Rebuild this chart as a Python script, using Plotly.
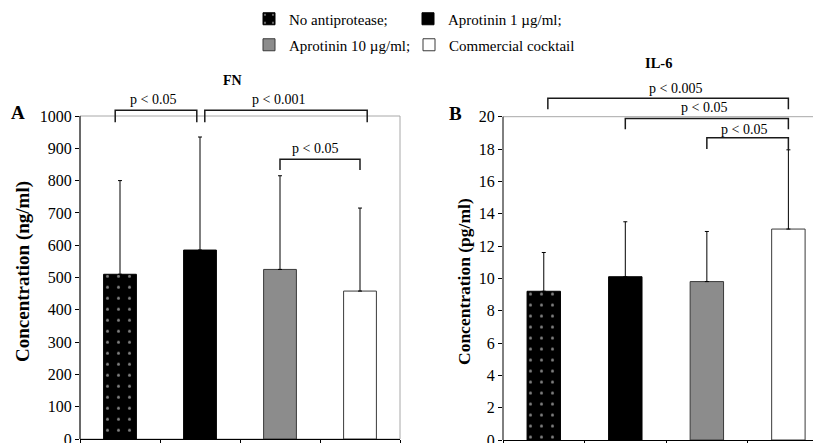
import plotly.graph_objects as go

# ---------------- data ----------------
categories = ["No antiprotease", "Aprotinin 1 µg/ml", "Aprotinin 10 µg/ml", "Commercial cocktail"]
legend_labels = ["No antiprotease;", "Aprotinin 1 µg/ml;", "Aprotinin 10 µg/ml;", "Commercial cocktail"]

fn_mean = [510, 585, 525, 458]
fn_sd = [290, 350, 290, 257]

il6_mean = [9.2, 10.1, 9.8, 13.05]
il6_sd = [2.4, 3.4, 3.1, 4.9]

fn_ticks = [0, 100, 200, 300, 400, 500, 600, 700, 800, 900, 1000]
il6_ticks = [0, 2, 4, 6, 8, 10, 12, 14, 16, 18, 20]

# significance brackets: (x start, x end, bar y, left leg end, right leg end, label, label x, label y)
fn_brackets = [
    (-0.06, 0.96, 1018, 981, 981, "p < 0.05", 0.41, 1052),
    (1.06, 3.09, 1018, 981, 981, "p < 0.001", 1.98, 1052),
    (2.0, 3.0, 866, 833, 833, "p < 0.05", 2.44, 900),
]
il6_brackets = [
    (0.05, 3.0, 21.14, 20.46, 20.46, "p < 0.005", 1.62, 21.76),
    (1.0, 3.0, 19.89, 19.22, 19.22, "p < 0.05", 1.96, 20.56),
    (2.0, 3.0, 18.70, 18.0, 17.94, "p < 0.05", 2.45, 19.18),
]

# ---------------- layout helpers ----------------
# the page body adds an 8px margin, so the figure is drawn 8px in from the window edges
PAGE = 8
W, H = 821 - PAGE, 443 - PAGE
SERIF = "Liberation Serif, Times New Roman, serif"


def fx(rx):
    return (rx - PAGE) / W


def fy(ry):
    return (H - (ry - PAGE)) / H


bar_fill = ["black", "black", "#8c8c8c", "white"]
bar_line = ["black", "black", "#3a3a3a", "#3a3a3a"]
bar_pattern = [dict(shape=".", bgcolor="black", fgcolor="white", size=11, solidity=0.06),
               None, None, None]
legend_ids = ["legend", "legend2", "legend3", "legend4"]
legend_pos = [(268, 19), (427, 19), (268, 45), (428, 45)]

fig = go.Figure()


def add_panel(means, sds, xa, ya, legend_on):
    for i, cat in enumerate(categories):
        marker = dict(color=bar_fill[i], line=dict(color=bar_line[i], width=1))
        if bar_pattern[i]:
            marker["pattern"] = bar_pattern[i]
        fig.add_trace(go.Bar(
            x=[cat], y=[means[i]], name=legend_labels[i], width=0.41,
            marker=marker, xaxis=xa, yaxis=ya,
            showlegend=legend_on, legend=legend_ids[i],
            error_y=dict(type="data", symmetric=False, array=[sds[i]], arrayminus=[0],
                         color="black", thickness=1, width=2),
        ))


add_panel(fn_mean, fn_sd, "x", "y", True)
add_panel(il6_mean, il6_sd, "x2", "y2", False)


def ydomain(ry_zero, ry_top_tick, top_tick, range_top):
    k = (ry_zero - ry_top_tick) / top_tick
    ry_top = ry_zero - range_top * k
    return [fy(ry_zero), fy(ry_top)]


RA, RB = 1100, 22.3
dom_a = ydomain(439, 116, 1000, RA)
dom_b = ydomain(440, 116.7, 20, RB)

common_x = dict(type="category", showline=True, linecolor="black", linewidth=1,
                ticks="outside", tickson="boundaries", ticklen=5, tickcolor="black",
                showticklabels=False, showgrid=False, zeroline=False, fixedrange=True)
common_y = dict(showline=False, ticks="outside", ticklen=4, tickcolor="black",
                showgrid=False, zeroline=False, ticklabeloverflow="allow",
                tickfont=dict(family=SERIF, size=16, color="black"))

layout = dict(
    width=W, height=H,
    margin=dict(l=0, r=0, t=0, b=0, autoexpand=False),
    paper_bgcolor="white", plot_bgcolor="white",
    barmode="overlay",
    font=dict(family=SERIF, color="black"),
    xaxis=dict(domain=[fx(80), fx(400)], range=[-0.5, 3.5], anchor="y", **common_x),
    yaxis=dict(domain=dom_a, range=[0, RA], tickvals=fn_ticks, anchor="x", **common_y),
    xaxis2=dict(domain=[fx(503), 1.0], range=[-0.5, 3.4], anchor="y2", **common_x),
    yaxis2=dict(domain=dom_b, range=[0, RB], tickvals=il6_ticks, anchor="x2", **common_y),
)
for lid, (sx, sy) in zip(legend_ids, legend_pos):
    layout[lid] = dict(orientation="h", x=fx(sx - 19), xanchor="left", y=fy(sy), yanchor="middle",
                       font=dict(family=SERIF, size=15, color="black"),
                       bgcolor="rgba(0,0,0,0)", itemclick=False)
fig.update_layout(**layout)

shapes = []
annotations = []

# frames + y axis lines
shapes.append(dict(type="rect", xref="x domain", yref="y", x0=0, x1=1, y0=0, y1=fn_ticks[-1],
                   line=dict(color="#a8a8a8", width=1), layer="below"))
shapes.append(dict(type="line", xref="x domain", yref="y", x0=0, x1=0, y0=0, y1=fn_ticks[-1],
                   line=dict(color="black", width=1)))
shapes.append(dict(type="line", xref="x2 domain", yref="y2", x0=0, x1=1, y0=il6_ticks[-1], y1=il6_ticks[-1],
                   line=dict(color="#a8a8a8", width=1), layer="below"))
shapes.append(dict(type="line", xref="x2 domain", yref="y2", x0=0, x1=0, y0=0, y1=il6_ticks[-1],
                   line=dict(color="black", width=1)))


def add_brackets(brackets, xr, yr):
    for (xs, xe, yb, yl, yrr, label, lx, ly) in brackets:
        shapes.append(dict(type="path", xref=xr, yref=yr,
                           path=f"M {xs},{yl} L {xs},{yb} L {xe},{yb} L {xe},{yrr}",
                           line=dict(color="#1a1a1a", width=1.5)))
        annotations.append(dict(xref=xr, yref=yr, x=lx, y=ly, text=label, showarrow=False,
                                xanchor="center", yanchor="middle",
                                font=dict(family=SERIF, size=14, color="black")))


add_brackets(fn_brackets, "x", "y")
add_brackets(il6_brackets, "x2", "y2")


def label(text, rx, ry, size, angle=0):
    return dict(xref="paper", yref="paper", x=fx(rx), y=fy(ry), text=text, showarrow=False,
                xanchor="center", yanchor="middle", textangle=angle,
                font=dict(family=SERIF, size=size, color="black"))


annotations += [
    label("<b>FN</b>", 232, 80, 14),
    label("<b>IL-6</b>", 658, 63, 14.5),
    label("<b>A</b>", 18, 112, 19),
    label("<b>B</b>", 455, 113, 19),
    label("<b>Concentration (ng/ml)</b>", 23, 272, 19, -90),
    label("<b>Concentration (pg/ml)</b>", 464, 281, 17.5, -90),
]

fig.update_layout(shapes=shapes, annotations=annotations)
fig.write_html("out.html")
